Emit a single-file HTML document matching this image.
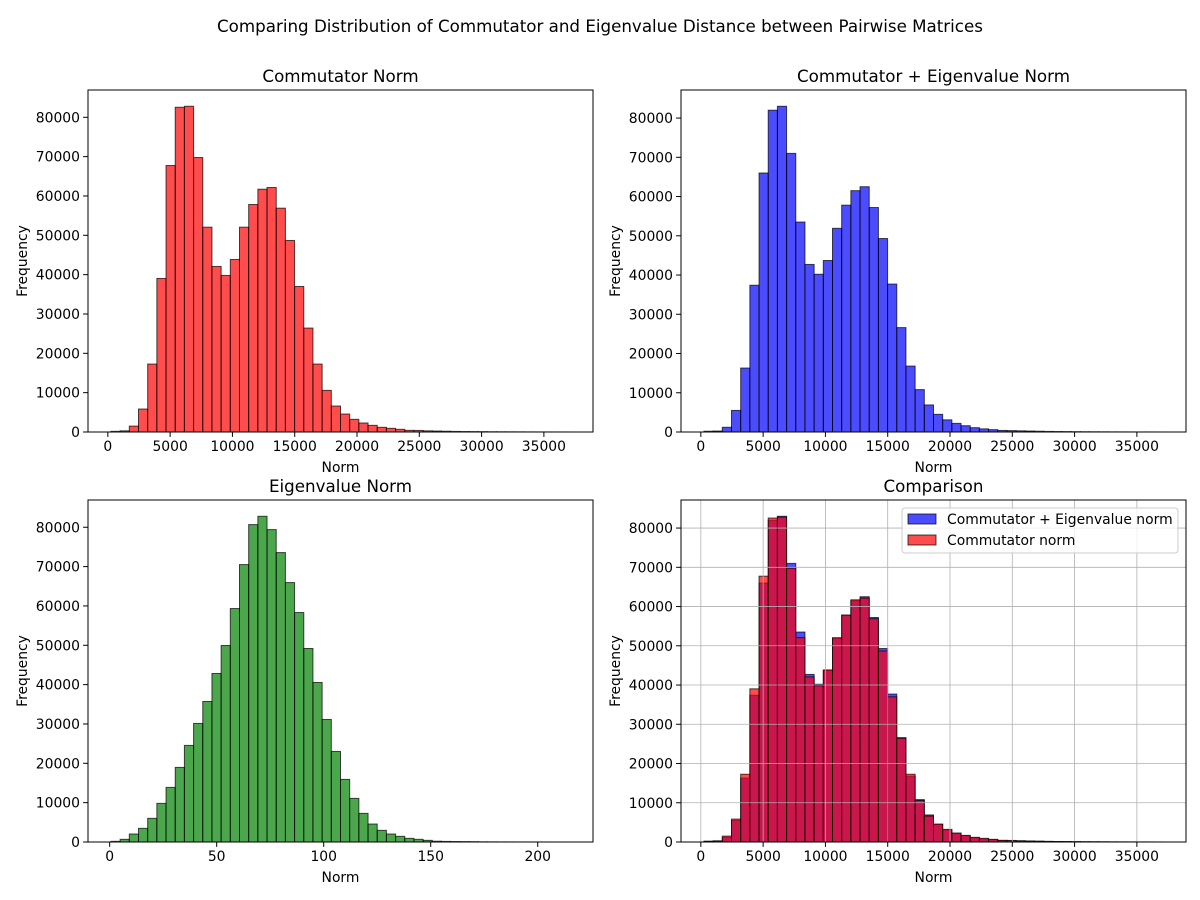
<!DOCTYPE html>
<html><head><meta charset="utf-8"><style>
body{margin:0;background:#fff}
svg{display:block;font-family:"DejaVu Sans","Liberation Sans",sans-serif}
</style></head><body>
<svg id="fig" width="1200" height="900">
<text x="600" y="32" text-anchor="middle" font-size="16.7">Comparing Distribution of Commutator and Eigenvalue Distance between Pairwise Matrices</text>
</svg>
<script>
const commBins = [170,300,1500,5840,17270,39030,67740,82550,82800,69770,52070,42080,39800,43860,52070,57830,61720,62150,56900,48690,37000,26420,17270,10580,6600,4570,3220,2290,1690,1190,930,680,420,400,300,250,200,150,120,100,80,60,50,40,30,20,15,10,10,5];
const sumBins = [200,250,1200,5500,16300,37400,66000,82000,83000,71000,53500,42700,40200,43700,51900,57800,61500,62500,57200,49300,37700,26600,16800,10800,6900,4500,3100,2200,1600,1100,800,600,400,350,300,250,200,150,120,100,80,60,50,40,30,20,15,10,10,5];
const eigBins = [170,680,2030,3470,6010,9820,13880,18960,24550,30140,35720,42830,49940,59340,70510,80670,82790,79400,73560,65940,58320,49180,40550,31150,23020,15910,11090,7280,4570,2960,2030,1440,930,680,420,200,150,120,100,80,40,30,20,15,10,8,5,3,2,1];
const commRange = [250, 37100];
const eigRange = [0.6, 215.1];
const normTicks = [0,5000,10000,15000,20000,25000,30000,35000];
const eigTicks = [0,50,100,150,200];
const freqTicks = [0,10000,20000,30000,40000,50000,60000,70000,80000];

const NS='http://www.w3.org/2000/svg';
const fig=document.getElementById('fig');
function mk(tag,attrs,parent){const e=document.createElementNS(NS,tag);for(const k in attrs)e.setAttribute(k,attrs[k]);(parent||fig).appendChild(e);return e;}

function panel(px,py,title,name,seriesList,range,xticks,grid,legend){
  const W=505,H=342;
  const g=mk('g',{});
  
  
  let ymax=0;seriesList.forEach(s=>s.bins.forEach(v=>{if(v>ymax)ymax=v;}));
  const span=range[1]-range[0];const x0=range[0]-0.05*span,x1=range[1]+0.05*span;
  const xs=v=>px+(v-x0)/(x1-x0)*W;
  const ys=v=>py+H-v/(ymax*1.05)*H;
  seriesList.forEach(s=>{
    const n=s.bins.length,bw=span/n;
    s.bins.forEach((v,i)=>{
      const a=xs(range[0]+i*bw),b=xs(range[0]+(i+1)*bw);
      const r=mk('rect',{x:a,y:ys(v),width:b-a,height:ys(0)-ys(v),fill:s.color,'fill-opacity':0.7,stroke:'#000','stroke-opacity':0.7,'stroke-width':1},g);
      
      
    });
  });
  if(grid){
    xticks.forEach(t=>mk('line',{x1:xs(t),x2:xs(t),y1:py,y2:py+H,stroke:'#b0b0b0','stroke-width':0.8},g));
    freqTicks.forEach(t=>mk('line',{x1:px,x2:px+W,y1:ys(t),y2:ys(t),stroke:'#b0b0b0','stroke-width':0.8},g));
  }
  mk('rect',{x:px,y:py,width:W,height:H,fill:'none',stroke:'#000','stroke-width':1},g);
  xticks.forEach(t=>{
    mk('line',{x1:xs(t),x2:xs(t),y1:py+H,y2:py+H+4.9,stroke:'#000'},g);
    const tx=mk('text',{x:xs(t),y:py+H+19,'text-anchor':'middle','font-size':13.9},g);tx.textContent=t;
    
    
  });
  freqTicks.forEach(t=>{
    mk('line',{x1:px-4.9,x2:px,y1:ys(t),y2:ys(t),stroke:'#000'},g);
    const tx=mk('text',{x:px-8,y:ys(t)+5,'text-anchor':'end','font-size':13.9},g);tx.textContent=t;
    
    
  });
  const tt=mk('text',{x:px+W/2,y:py-8,'text-anchor':'middle','font-size':16.7},g);tt.textContent=title;
  
  
  const xl=mk('text',{x:px+W/2,y:py+H+40,'text-anchor':'middle','font-size':13.9},g);xl.textContent='Norm';
  
  
  const yl=mk('text',{x:0,y:0,'text-anchor':'middle','font-size':13.9,transform:`translate(${px-61},${py+H/2}) rotate(-90)`},g);yl.textContent='Frequency';
  
  
  if(legend){
    const lg=mk('g',{},g);
    
    
    mk('rect',{x:902,y:508,width:276,height:45,rx:3,fill:'#fff','fill-opacity':0.8,stroke:'#ccc'},lg);
    legend.forEach((s,i)=>{
      mk('rect',{x:908,y:514+i*21,width:28,height:10,fill:s.color,'fill-opacity':0.7,stroke:'#000','stroke-opacity':0.7},lg);
      const lt=mk('text',{x:947,y:524+i*21,'font-size':13.9},lg);lt.textContent=s.label;
      
      
    });
  }
}
panel(88,90,'Commutator Norm','commutator',[{bins:commBins,color:'#ff0000',key:'commutator'}],commRange,normTicks,false,null);
panel(681,90,'Commutator + Eigenvalue Norm','sum',[{bins:sumBins,color:'#0000ff',key:'sum'}],commRange,normTicks,false,null);
panel(88,500,'Eigenvalue Norm','eigenvalue',[{bins:eigBins,color:'#008000',key:'eigenvalue'}],eigRange,eigTicks,false,null);
panel(681,500,'Comparison','comparison',[{bins:sumBins,color:'#0000ff',key:'comparison-sum'},{bins:commBins,color:'#ff0000',key:'comparison-commutator'}],commRange,normTicks,true,
  [{color:'#0000ff',label:'Commutator + Eigenvalue norm'},{color:'#ff0000',label:'Commutator norm'}]);
</script>
</body></html>
